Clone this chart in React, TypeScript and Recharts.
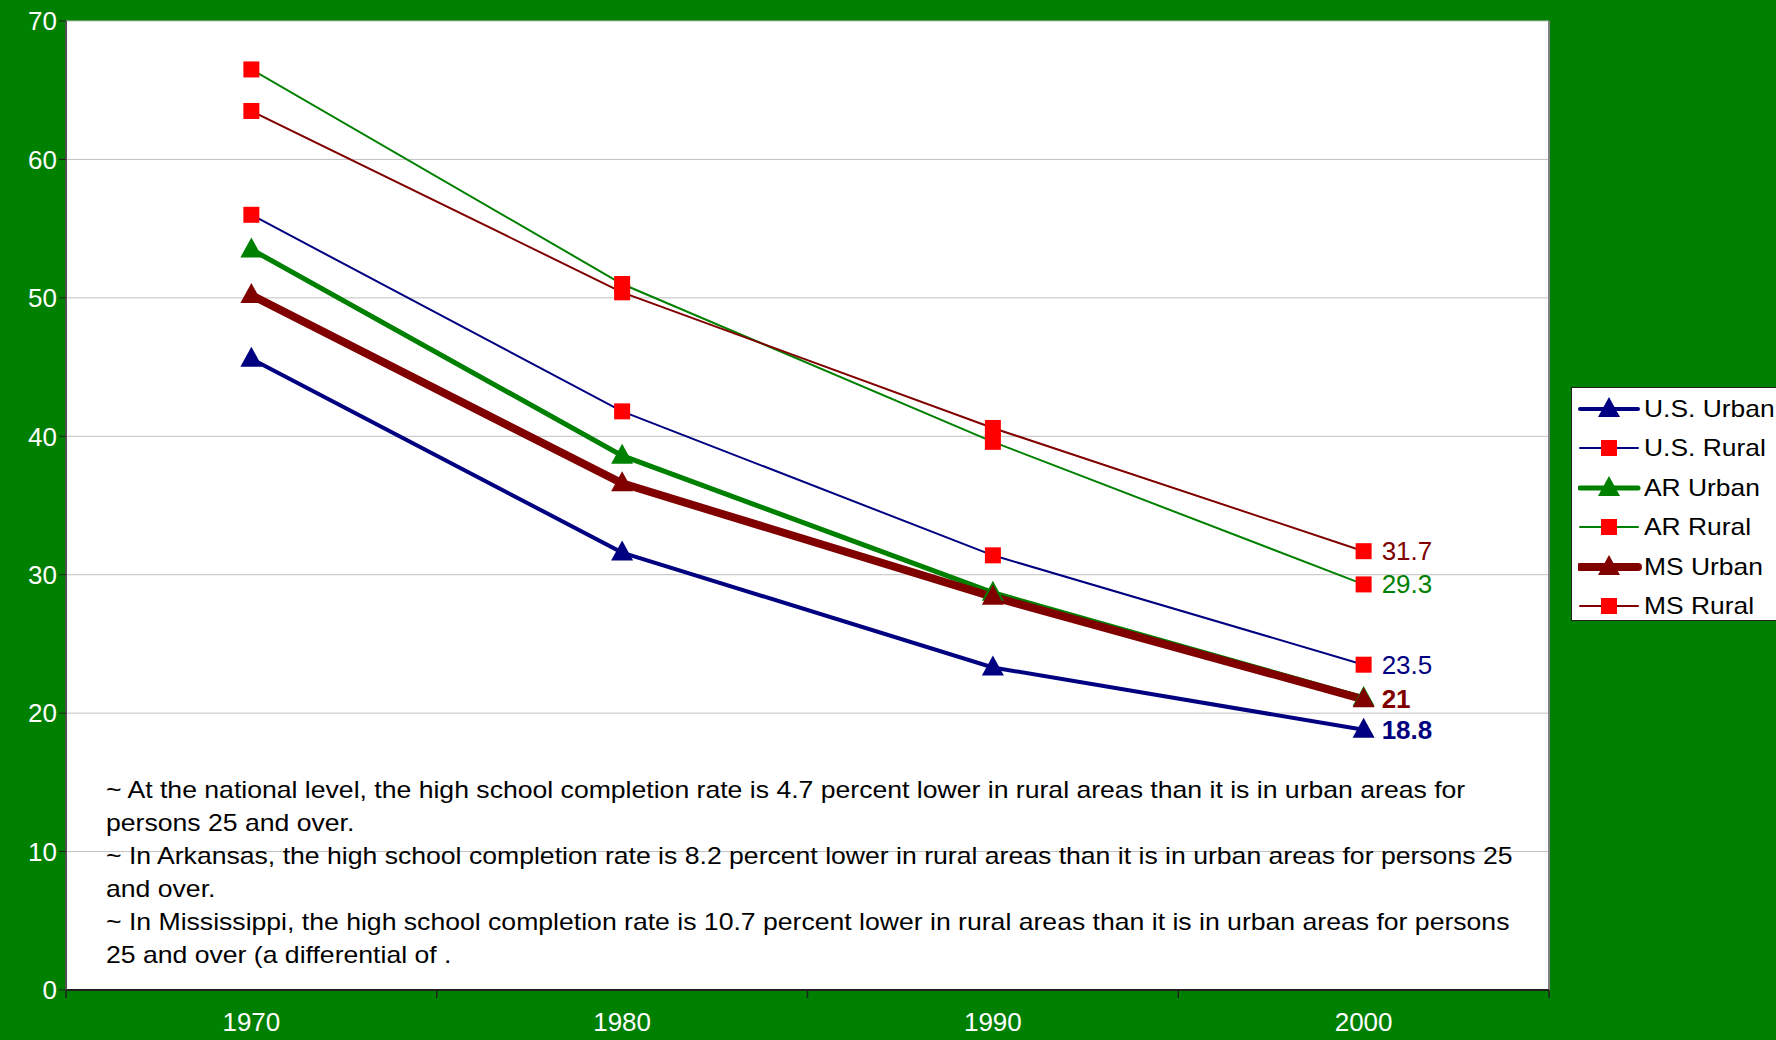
import React from 'react';
import { LineChart, Line, XAxis, YAxis, CartesianGrid, LabelList } from 'recharts';

const years = [1970, 1980, 1990, 2000];
const bandEdges = [1965, 1975, 1985, 1995, 2005];
const yTicks = [0, 10, 20, 30, 40, 50, 60, 70];

const usUrban = [45.6, 31.6, 23.3, 18.8];
const usRural = [56.0, 41.8, 31.4, 23.5];
const arUrban = [53.5, 38.6, 28.7, 21.1];
const arRural = [66.5, 51.0, 39.6, 29.3];
const msUrban = [50.2, 36.6, 28.4, 21];
const msRural = [63.5, 50.4, 40.6, 31.7];

const notes = [
  '~ At the national level, the high school completion rate is 4.7 percent lower in rural areas than it is in urban areas for',
  'persons 25 and over.',
  '~ In Arkansas, the high school completion rate is 8.2 percent lower in rural areas than it is in urban areas for persons 25',
  'and over.',
  '~ In Mississippi, the high school completion rate is 10.7 percent lower in rural areas than it is in urban areas for persons',
  '25 and over (a differential of .',
];

const colors = {
  navy: '#000080',
  green: '#008000',
  maroon: '#800000',
  red: '#ff0000',
};

const FONT = '"Liberation Sans", Arial, Helvetica, sans-serif';

const series = [
  { key: 'usUrban', name: 'U.S. Urban', values: usUrban, color: colors.navy, width: 4, marker: 'tri', bold: true },
  { key: 'usRural', name: 'U.S. Rural', values: usRural, color: colors.navy, width: 2, marker: 'sq', bold: false },
  { key: 'arUrban', name: 'AR Urban', values: arUrban, color: colors.green, width: 5, marker: 'tri', bold: false, noLabel: true },
  { key: 'arRural', name: 'AR Rural', values: arRural, color: colors.green, width: 2, marker: 'sq', bold: false },
  { key: 'msUrban', name: 'MS Urban', values: msUrban, color: colors.maroon, width: 8, marker: 'tri', bold: true },
  { key: 'msRural', name: 'MS Rural', values: msRural, color: colors.maroon, width: 2, marker: 'sq', bold: false },
];

const data = years.map((year, i) => {
  const row: any = { year };
  series.forEach((s) => { row[s.key] = s.values[i]; });
  return row;
});

const Marker = ({ cx, cy, kind, color }: any) => {
  if (cx == null || cy == null) return null;
  if (kind === 'tri') {
    return <polygon points={`${cx},${cy - 12} ${cx - 11},${cy + 8} ${cx + 11},${cy + 8}`} fill={color} />;
  }
  return <rect x={cx - 8} y={cy - 8} width={16} height={16} fill={colors.red} />;
};

const XTick = ({ x, y, payload }: any) => {
  if (years.includes(payload.value)) {
    return (
      <text x={x} y={y + 33} textAnchor="middle" fill="#fff" fontSize={26} fontFamily={FONT}>
        {payload.value}
      </text>
    );
  }
  return <line x1={x} x2={x} y1={y - 8} y2={y} stroke="#202020" strokeWidth={1.5} />;
};

const endLabel = (color: string, bold: boolean) => (props: any) => {
  const { x, y, value, index } = props;
  if (index !== years.length - 1) return null;
  return (
    <text x={x + 18} y={y} dy={9} fill={color} fontSize={26} fontWeight={bold ? 'bold' : 'normal'} fontFamily={FONT}>
      {value}
    </text>
  );
};

const LegendBox = () => (
  <div
    style={{
      position: 'absolute', left: 1571, top: 387, width: 220, height: 234,
      background: '#fff', border: '1.5px solid #202020', boxSizing: 'border-box',
      fontFamily: FONT, fontSize: 24, color: '#000', paddingTop: 1,
    }}
  >
    {series.map((s) => (
      <div key={s.key} style={{ display: 'flex', alignItems: 'center', height: 39.5 }}>
        <svg width={66} height={30} style={{ marginLeft: 6 }}>
          <line x1={2} x2={60} y1={15} y2={15} stroke={s.color} strokeWidth={s.width} strokeLinecap="round" />
          <Marker cx={31} cy={15} kind={s.marker} color={s.color} />
        </svg>
        <span style={{ display: 'inline-block', transform: 'scaleX(1.1)', transformOrigin: 'left center' }}>{s.name}</span>
      </div>
    ))}
  </div>
);

export default function App() {
  return (
    <div style={{ position: 'absolute', left: 0, top: 0, width: 1776, height: 1040, background: '#008000', overflow: 'hidden' }}>
      <LineChart width={1776} height={1040} data={data} margin={{ top: 21, right: 227, bottom: 0, left: 0 }}>
        <CartesianGrid vertical={false} stroke="#c0c0c0" fill="#ffffff" fillOpacity={1} />
        <CartesianGrid horizontal={false} verticalPoints={[1549]} stroke="#808080" strokeWidth={2} />
        <XAxis
          dataKey="year"
          type="number"
          domain={[1965, 2005]}
          ticks={[...bandEdges, ...years].sort()}
          interval={0}
          tickLine={false}
          tick={<XTick />}
          axisLine={{ stroke: '#202020', strokeWidth: 2 }}
          height={50}
        />
        <YAxis
          domain={[0, 70]}
          ticks={yTicks}
          interval={0}
          width={66}
          tickSize={7}
          tickLine={{ stroke: '#202020' }}
          axisLine={{ stroke: '#505050', strokeWidth: 2 }}
          tick={{ fill: '#ffffff', fontSize: 26, fontFamily: FONT }}
        />
        {series.map((s) => (
          <Line
            key={s.key}
            dataKey={s.key}
            name={s.name}
            stroke={s.color}
            strokeWidth={s.width}
            isAnimationActive={false}
            dot={(p: any) => <Marker key={`${s.key}-${p.index}`} cx={p.cx} cy={p.cy} kind={s.marker} color={s.color} />}
            activeDot={false}
          >
            {!s.noLabel && <LabelList dataKey={s.key} content={endLabel(s.color, s.bold)} />}
          </Line>
        ))}
      </LineChart>
      <div
        style={{
          position: 'absolute', left: 106, top: 773, fontFamily: FONT, fontSize: 24, lineHeight: '33px',
          color: '#000', whiteSpace: 'pre', transform: 'scaleX(1.108)', transformOrigin: 'left top',
        }}
      >
        {notes.map((n, i) => (
          <div key={i}>{n}</div>
        ))}
      </div>
      <LegendBox />
    </div>
  );
}
